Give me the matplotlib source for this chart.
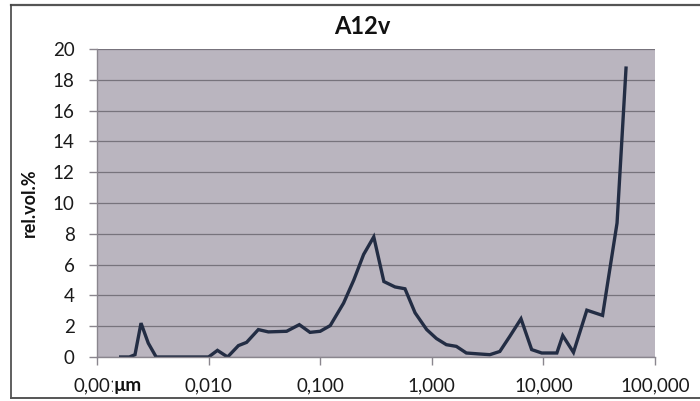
import matplotlib
matplotlib.use("Agg")
import matplotlib.pyplot as plt
from matplotlib.lines import Line2D
from matplotlib.ticker import FixedLocator, NullLocator

# particle size (µm) and relative volume (%)
size_um = [0.00163, 0.00195, 0.00219, 0.00248, 0.00288, 0.00339, 0.00417, 0.00513,
           0.0063, 0.0078, 0.0100, 0.0120, 0.0148, 0.0185, 0.0219, 0.0279, 0.0343,
           0.0417, 0.050, 0.065, 0.081, 0.100, 0.123, 0.162, 0.200, 0.245, 0.302,
           0.372, 0.468, 0.575, 0.708, 0.90, 1.10, 1.35, 1.66, 2.04, 2.63, 3.31,
           4.07, 5.0, 6.3, 7.85, 9.66, 13.2, 14.9, 18.6, 24.5, 33.9, 45.7, 55.0]
rel_vol = [0.0, 0.0, 0.15, 2.2, 0.9, 0.0, 0.0, 0.0,
           0.0, 0.0, 0.0, 0.43, 0.0, 0.74, 0.95, 1.78, 1.63,
           1.65, 1.67, 2.1, 1.6, 1.67, 2.04, 3.5, 5.0, 6.66, 7.8,
           4.9, 4.55, 4.43, 2.87, 1.78, 1.2, 0.8, 0.69, 0.26, 0.2, 0.15,
           0.36, 1.34, 2.48, 0.48, 0.26, 0.26, 1.39, 0.3, 3.04, 2.7, 8.7, 18.76]

x_ticks = [0.001, 0.01, 0.1, 1, 10, 100]
x_tick_labels = ["0,001", "0,010", "0,100", "1,000", "10,000", "100,000"]
y_ticks = list(range(0, 21, 2))

TITLE = "A12v"
Y_LABEL = "rel.vol.%"
UNIT = "µm"

plt.rcParams["font.family"] = ["Lato", "DejaVu Sans"]

fig = plt.figure(figsize=(7.0, 4.01), dpi=100)
ax = fig.add_axes([97 / 700, 1 - 357 / 401, 558 / 700, 308 / 401])
ax.set_facecolor("#bab5bf")

ax.plot(size_um, rel_vol, color="#232d44", lw=2.4, solid_joinstyle="miter")

ax.set_xscale("log")
ax.set_xlim(0.001, 100)
ax.set_ylim(0, 20)
ax.xaxis.set_major_locator(FixedLocator(x_ticks))
ax.xaxis.set_minor_locator(NullLocator())
ax.set_xticklabels(x_tick_labels)
ax.set_yticks(y_ticks)
ax.set_yticklabels([str(v) for v in y_ticks])

ax.grid(axis="y", color="#77737c", lw=0.9)
ax.set_axisbelow(True)
for side in ["top", "right"]:
    ax.spines[side].set_visible(False)
for side in ["left", "bottom"]:
    ax.spines[side].set_color("#8a868e")
    ax.spines[side].set_linewidth(1.0)
ax.tick_params(axis="both", length=6, width=1.0, color="#8a868e",
               labelsize=13.5, labelcolor="#1a1a1a")
ax.tick_params(axis="y", pad=10)
ax.tick_params(axis="x", pad=9)

fig.text(362 / 700, 1 - 26 / 401, TITLE, ha="center", va="center",
         fontsize=17, fontweight="bold", color="#111111")
fig.text(29 / 700, 1 - 203 / 401, Y_LABEL, ha="center", va="center",
         rotation=90, fontsize=13, fontweight="bold", color="#111111")
# the unit label sits on top of the first tick label, as in the original
fig.text(128 / 700, 1 - 386 / 401, UNIT, ha="center", va="center",
         fontsize=13.5, fontweight="bold", color="#111111",
         bbox=dict(facecolor="white", edgecolor="none", pad=0.5))

# frame of the chart area
fig.add_artist(Line2D([11 / 700, 1.0], [1 - 5 / 401, 1 - 5 / 401],
                      color="#555555", lw=1.6, transform=fig.transFigure))
fig.add_artist(Line2D([11 / 700, 11 / 700], [1 - 5 / 401, 1 - 398 / 401],
                      color="#444444", lw=1.2, transform=fig.transFigure))
fig.add_artist(Line2D([11 / 700, 1.0], [1 - 398 / 401, 1 - 398 / 401],
                      color="#555555", lw=1.4, transform=fig.transFigure))

fig.savefig("out.png", dpi=100)
